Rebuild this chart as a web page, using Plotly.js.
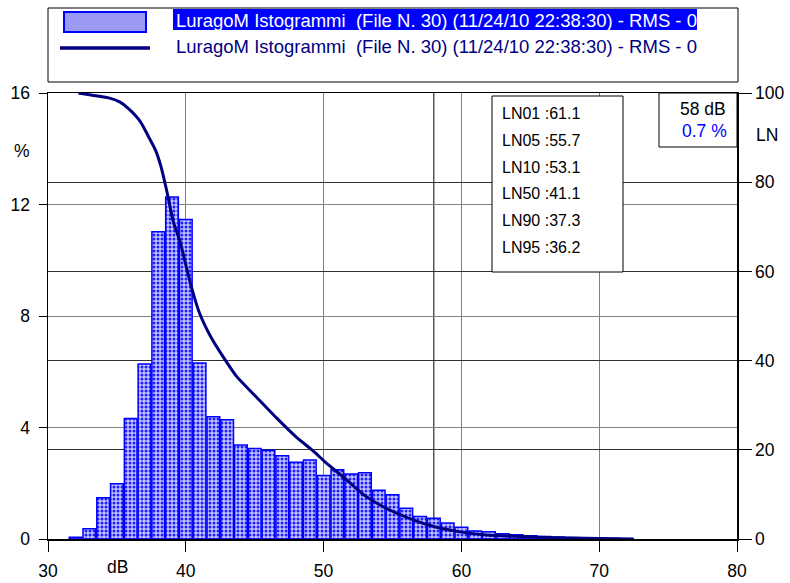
<!DOCTYPE html>
<html>
<head>
<meta charset="utf-8">
<script src="https://cdn.plot.ly/plotly-3.0.1.min.js"></script>
<style>html,body{margin:0;padding:0;background:#fff;} #chart{width:790px;height:583px;}</style>
</head>
<body>
<div id="chart"></div>
<script>
// Histogram: dB level classes and % of time
const binDb = [32,33,34,35,36,37,38,39,40,41,42,43,44,45,46,47,48,49,50,51,52,53,54,55,56,57,58,59,60,61,62,63,64,65,66,67,68,69,70,71,72];
const binPct = [0.06,0.37,1.48,1.98,4.32,6.28,11.02,12.27,11.46,6.31,4.39,4.28,3.37,3.25,3.18,2.99,2.75,2.83,2.28,2.48,2.33,2.38,1.75,1.59,1.10,0.81,0.74,0.57,0.42,0.29,0.26,0.19,0.15,0.12,0.09,0.07,0.05,0.04,0.03,0.02,0.01];
// Cumulative LN curve (right axis)
const lnDb = [32.2,33.0,34.4,35.2,35.8,36.7,37.3,37.8,38.2,38.6,39.1,39.6,40.0,40.4,41.0,41.8,42.7,43.7,45.1,46.6,48.0,49.3,50.1,51.7,53.1,54.8,56.5,58.0,59.9,61.8,63.8,65.7,68.0,70.0,72.5];
const lnVal = [100,99.6,98.9,98.0,96.6,93.6,90.2,87.2,83.5,78.3,71.1,66.5,61.5,56.6,50.6,45.4,40.9,36.4,31.9,27.1,22.9,19.6,17.3,13.2,9.5,6.5,4.3,2.8,1.6,0.9,0.6,0.4,0.22,0.1,0];
// Statistics
const lnLabels = ["LN01","LN05","LN10","LN50","LN90","LN95"];
const lnStats = ["61.1","55.7","53.1","41.1","37.3","36.2"];
const cursorDb = 58;
const cursorPct = "0.7 %";
const seriesName = "LuragoM Istogrammi  (File N. 30) (11/24/10 22:38:30) - RMS - 0";
const xTicks = [30,40,50,60,70,80];

const FONT = "Liberation Sans, Arial, sans-serif";
const TF = 17.5;

const traces = [
  {
    type: 'bar', x: binDb, y: binPct, width: 0.92,
    marker: {
      color: '#9a9af5',
      line: {color: '#0000ff', width: 1.5},
      pattern: {shape: '.', fgcolor: '#2020ff', bgcolor: '#c4c4ff', size: 4, solidity: 0.45, fillmode: 'replace'}
    },
    xaxis: 'x', yaxis: 'y', showlegend: false, hoverinfo: 'skip'
  },
  {
    type: 'scatter', mode: 'lines', x: lnDb, y: lnVal,
    line: {color: '#000080', width: 3, shape: 'spline', smoothing: 0.6},
    xaxis: 'x', yaxis: 'y2', showlegend: false, hoverinfo: 'skip'
  }
];

const annotations = [];
const shapes = [];
const plotH = 583-93-44, plotW = 790-48-53;
function py(pix){ return (539 - pix)/plotH; }
function px(pix){ return (pix - 48)/plotW; }

// Legend box (custom)
shapes.push({type:'rect', xref:'paper', yref:'paper', x0:px(48), x1:px(738), y0:py(82), y1:py(8), line:{color:'#000', width:1}, fillcolor:'#fff', layer:'above'});
shapes.push({type:'rect', xref:'paper', yref:'paper', x0:px(173), x1:px(697), y0:py(30), y1:py(9), line:{width:0}, fillcolor:'#0000ff', layer:'above'});
shapes.push({type:'rect', xref:'paper', yref:'paper', x0:px(64), x1:px(146), y0:py(32), y1:py(12), line:{color:'#0000ff', width:2}, fillcolor:'#9a9af5', layer:'above'});
shapes.push({type:'line', xref:'paper', yref:'paper', x0:px(60), x1:px(150), y0:py(48), y1:py(48), line:{color:'#000080', width:3.5}, layer:'above'});
annotations.push({xref:'paper', yref:'paper', x:px(174), y:py(20), xanchor:'left', yanchor:'middle', text:seriesName, showarrow:false, font:{family:FONT, size:18.5, color:'#ffffff'}});
annotations.push({xref:'paper', yref:'paper', x:px(174), y:py(47), xanchor:'left', yanchor:'middle', text:seriesName, showarrow:false, font:{family:FONT, size:18.5, color:'#000080'}});

// Cursor line at 58 dB
shapes.push({type:'line', xref:'x', yref:'paper', x0:cursorDb, x1:cursorDb, y0:0, y1:1, line:{color:'#000', width:1}, layer:'below'});

// LN stats box
shapes.push({type:'rect', xref:'paper', yref:'paper', x0:px(492), x1:px(623), y0:py(272), y1:py(96), line:{color:'#000', width:1}, fillcolor:'#fff', layer:'above'});
const rowY = [113,140,167,193,220,247];
for (let i=0;i<lnLabels.length;i++){
  annotations.push({xref:'paper', yref:'paper', x:px(500), y:py(rowY[i]), xanchor:'left', yanchor:'middle', text:lnLabels[i]+' :'+lnStats[i], showarrow:false, font:{family:FONT, size:16, color:'#000'}});
}
// Cursor box
shapes.push({type:'rect', xref:'paper', yref:'paper', x0:px(659), x1:px(737), y0:py(147), y1:py(93), line:{color:'#000', width:1}, fillcolor:'#fff', layer:'above'});
annotations.push({xref:'paper', yref:'paper', x:px(728), y:py(109), xanchor:'right', yanchor:'middle', text:cursorDb+' dB', showarrow:false, font:{family:FONT, size:17.5, color:'#000'}});
annotations.push({xref:'paper', yref:'paper', x:px(729), y:py(131), xanchor:'right', yanchor:'middle', text:cursorPct, showarrow:false, font:{family:FONT, size:17.5, color:'#0000ff'}});

// Axis labels
annotations.push({xref:'paper', yref:'paper', x:px(22), y:py(151), xanchor:'center', yanchor:'middle', text:'%', showarrow:false, font:{family:FONT, size:TF, color:'#000'}});
annotations.push({xref:'paper', yref:'paper', x:px(767), y:py(135), xanchor:'center', yanchor:'middle', text:'LN', showarrow:false, font:{family:FONT, size:TF, color:'#000'}});
annotations.push({xref:'paper', yref:'paper', x:px(117), y:py(567), xanchor:'center', yanchor:'middle', text:'dB', showarrow:false, font:{family:FONT, size:TF, color:'#000'}});

const layout = {
  width: 790, height: 583,
  margin: {l:48, r:53, t:93, b:44, pad:0},
  paper_bgcolor: '#fff', plot_bgcolor: '#fff',
  font: {family: FONT, size: TF, color: '#000'},
  bargap: 0.08,
  showlegend: false,
  xaxis: {
    range: [30, 80], tickvals: xTicks, ticks: 'outside', ticklen: 11, tickcolor: '#000', tickwidth: 1,
    showgrid: true, gridcolor: '#808080', gridwidth: 1,
    showline: true, linecolor: '#000', linewidth: 1.5, mirror: true, zeroline: false,
    tickfont: {family: FONT, size: TF, color: '#000'}, ticklabelstandoff: 4
  },
  yaxis: {
    range: [0, 16], tickvals: [0,4,8,12,16], ticks: 'outside', ticklen: 8, tickcolor: '#000',
    showgrid: true, gridcolor: '#808080', gridwidth: 1,
    showline: true, linecolor: '#000', linewidth: 1.5, zeroline: false,
    tickfont: {family: FONT, size: TF, color: '#000'}, ticklabelstandoff: 5
  },
  yaxis2: {
    range: [0, 100], tickvals: [0,20,40,60,80,100], overlaying: 'y', side: 'right',
    ticks: 'outside', ticklen: 13, tickcolor: '#000',
    showgrid: true, gridcolor: '#303030', gridwidth: 1,
    showline: true, linecolor: '#000', linewidth: 1.5, zeroline: false,
    tickfont: {family: FONT, size: TF, color: '#000'}, ticklabelstandoff: 0
  },
  shapes: shapes,
  annotations: annotations
};

Plotly.newPlot('chart', traces, layout, {displayModeBar: false, staticPlot: true});
</script>
</body>
</html>
